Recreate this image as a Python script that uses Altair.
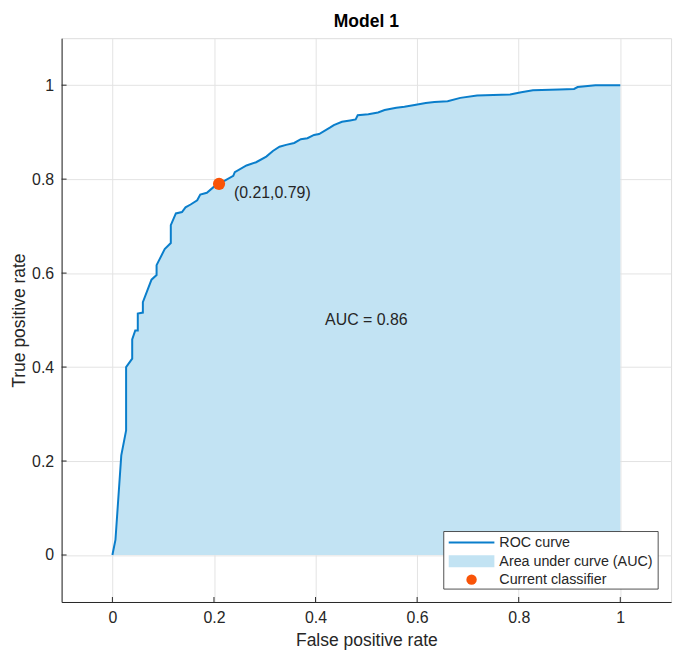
import altair as alt
import pandas as pd

# ROC curve points
fpr = [0.0, 0.006, 0.0175, 0.027, 0.027, 0.039, 0.039, 0.045, 0.05, 0.05, 0.06, 0.06,
       0.077, 0.087, 0.087, 0.103, 0.115, 0.115, 0.125, 0.137, 0.144, 0.154, 0.167,
       0.173, 0.186, 0.199, 0.21, 0.238, 0.241, 0.264, 0.283, 0.303, 0.316, 0.329,
       0.342, 0.358, 0.371, 0.384, 0.397, 0.407, 0.429, 0.436, 0.452, 0.468, 0.479,
       0.483, 0.504, 0.523, 0.536, 0.559, 0.575, 0.595, 0.617, 0.634, 0.660, 0.685,
       0.718, 0.750, 0.783, 0.805, 0.828, 0.880, 0.909, 0.916, 0.951, 0.997, 1.0]
tpr = [0.0, 0.032, 0.212, 0.265, 0.40, 0.418, 0.459, 0.478, 0.478, 0.514, 0.516, 0.538,
       0.586, 0.596, 0.617, 0.651, 0.664, 0.702, 0.727, 0.730, 0.740, 0.746, 0.755,
       0.767, 0.771, 0.783, 0.79, 0.807, 0.815, 0.829, 0.836, 0.848, 0.860, 0.869,
       0.873, 0.877, 0.885, 0.887, 0.894, 0.896, 0.910, 0.915, 0.922, 0.925, 0.927,
       0.936, 0.938, 0.942, 0.947, 0.952, 0.954, 0.958, 0.962, 0.964, 0.966, 0.973,
       0.978, 0.979, 0.980, 0.985, 0.989, 0.991, 0.992, 0.996, 1.0, 1.0, 1.0]

classifier_x = [0.21]
classifier_y = [0.79]
classifier_label = ["(0.21,0.79)"]
auc_text = ["AUC = 0.86"]
ticks = [0, 0.2, 0.4, 0.6, 0.8, 1]
legend_labels = ["ROC curve", "Area under curve (AUC)", "Current classifier"]

FONT = "Liberation Sans"
DARK = "#262626"
LINE = "#0a7ecb"
FILL = "#c2e3f3"
MARK = "#f95408"
W, H = 614, 568

roc = pd.DataFrame({"fpr": fpr, "tpr": tpr, "base": [0.0] * len(fpr), "i": range(len(fpr))})
pt = pd.DataFrame({"x": classifier_x, "y": classifier_y, "label": classifier_label})
auc = pd.DataFrame({"x": [0.5], "y": [0.5], "t": auc_text})
tk = pd.DataFrame({"v": ticks})

xs = alt.Scale(domain=[-0.1, 1.1], nice=False, zero=False)
ys = alt.Scale(domain=[-0.1, 1.1], nice=False, zero=False)

xaxis = alt.Axis(values=ticks, format="~g", tickSize=0, grid=True, gridColor="#e3e3e3",
                 domainColor=DARK, domainWidth=1, labelFont=FONT, labelFontSize=16,
                 labelColor=DARK, labelPadding=8, title="False positive rate",
                 titleFont=FONT, titleFontSize=17.6, titleFontWeight="normal",
                 titleColor=DARK, titlePadding=6)
yaxis = alt.Axis(values=ticks, format="~g", tickSize=0, grid=True, gridColor="#e3e3e3",
                 domainColor=DARK, domainWidth=1, labelFont=FONT, labelFontSize=16,
                 labelColor=DARK, labelPadding=8, title="True positive rate",
                 titleFont=FONT, titleFontSize=17.6, titleFontWeight="normal",
                 titleColor=DARK, titlePadding=3)

area = alt.Chart(roc).mark_area(color=FILL, opacity=1, interpolate="linear").encode(
    x=alt.X("fpr:Q", scale=xs, axis=xaxis),
    y=alt.Y("tpr:Q", scale=ys, axis=yaxis),
    y2=alt.Y2("base:Q"),
)
line = alt.Chart(roc).mark_line(color=LINE, strokeWidth=2).encode(
    x=alt.X("fpr:Q", scale=xs),
    y=alt.Y("tpr:Q", scale=ys),
    order="i:Q",
)
point = alt.Chart(pt).mark_point(filled=True, color=MARK, opacity=1, size=150).encode(
    x=alt.X("x:Q", scale=xs), y=alt.Y("y:Q", scale=ys)
)
ptlabel = alt.Chart(pt).mark_text(align="left", baseline="middle", dx=15, dy=9,
                                  font=FONT, fontSize=16, color=DARK).encode(
    x=alt.X("x:Q", scale=xs), y=alt.Y("y:Q", scale=ys), text="label:N"
)
auclabel = alt.Chart(auc).mark_text(align="center", baseline="middle",
                                    font=FONT, fontSize=16, color=DARK).encode(
    x=alt.X("x:Q", scale=xs), y=alt.Y("y:Q", scale=ys), text="t:N"
)
xticks = alt.Chart(tk).mark_rule(color=DARK, strokeWidth=1).encode(
    x=alt.X("v:Q", scale=xs), y=alt.value(H), y2=alt.value(H - 5)
)
yticks = alt.Chart(tk).mark_rule(color=DARK, strokeWidth=1).encode(
    y=alt.Y("v:Q", scale=ys), x=alt.value(0), x2=alt.value(5)
)

# legend (drawn in pixel space, bottom-right of the plot)
lx0, lx1, ly0, ly1 = 385, 601, 497, 555
lg_box = alt.Chart(tk.head(1)).mark_rect(fill="white", stroke=DARK, strokeWidth=0.8).encode(
    x=alt.value(lx0), x2=alt.value(lx1), y=alt.value(ly0), y2=alt.value(ly1)
)
lg_line = alt.Chart(tk.head(1)).mark_rule(color=LINE, strokeWidth=2).encode(
    x=alt.value(390), x2=alt.value(436), y=alt.value(508), y2=alt.value(508)
)
lg_rect = alt.Chart(tk.head(1)).mark_rect(color=FILL).encode(
    x=alt.value(390), x2=alt.value(436), y=alt.value(521), y2=alt.value(533)
)
lg_dot = alt.Chart(tk.head(1)).mark_point(filled=True, color=MARK, opacity=1, size=110).encode(
    x=alt.value(413), y=alt.value(545.5)
)
lg_texts = []
for k, lab in enumerate(legend_labels):
    lg_texts.append(
        alt.Chart(tk.head(1)).mark_text(text=lab, align="left", baseline="middle",
                                        font=FONT, fontSize=14.4, color=DARK).encode(
            x=alt.value(441), y=alt.value(509 + 18.3 * k)
        )
    )

chart = alt.layer(area, line, xticks, yticks, point, ptlabel, auclabel,
                  lg_box, lg_line, lg_rect, lg_dot, *lg_texts).properties(
    width=W, height=H,
    title=alt.TitleParams("Model 1", font=FONT, fontSize=17.6, fontWeight="bold",
                          color="black", anchor="middle", offset=8),
    autosize="none",
    padding={"left": 54, "top": 28, "right": 10, "bottom": 52},
).configure_view(stroke=None).configure(background="white")

chart.save("out.html", embed_options={"renderer": "svg", "actions": False})
